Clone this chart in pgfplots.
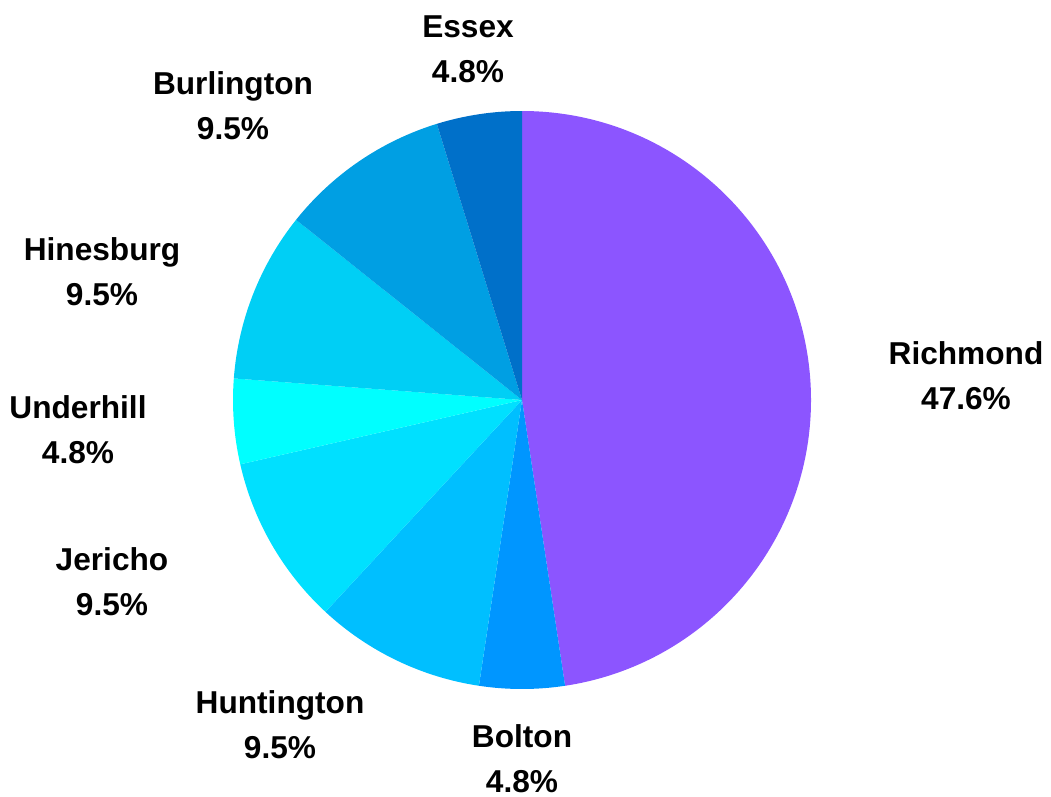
\documentclass[border=0pt]{standalone}
\usepackage{fontspec}
\setmainfont{Liberation Sans}
\usepackage{pgfplots}
\pgfplotsset{compat=1.18}

\definecolor{cRichmond}{HTML}{8C55FF}
\definecolor{cBolton}{HTML}{0096FF}
\definecolor{cHuntington}{HTML}{00BFFF}
\definecolor{cJericho}{HTML}{00E0FF}
\definecolor{cUnderhill}{HTML}{00FFFF}
\definecolor{cHinesburg}{HTML}{00CFF5}
\definecolor{cBurlington}{HTML}{009FE3}
\definecolor{cEssex}{HTML}{0070C9}

% counts (out of 21): Richmond 10, Bolton 1, Huntington 2, Jericho 2,
% Underhill 1, Hinesburg 2, Burlington 2, Essex 1
\newcommand{\slice}[3]{% start count, end count, colour
  \fill[#3] (axis cs:522,400) -- ++({90-#1*360/21}:2.89cm)
    arc[start angle={90-#1*360/21}, end angle={90-#2*360/21}, radius=2.89cm] -- cycle;}
\newcommand{\lab}[4]{\node[font=\bfseries\fontsize{9}{12.8}\selectfont, align=center]
  at (axis cs:#1,#2) {#3\\#4};}

\begin{document}
\begin{tikzpicture}
\begin{axis}[
  scale only axis,
  width=10.51cm, height=7.96cm,
  xmin=0, xmax=1051, ymin=0, ymax=796,
  y dir=reverse,
  hide axis,
  clip=false,
]
\slice{0}{10}{cRichmond}
\slice{10}{11}{cBolton}
\slice{11}{13}{cHuntington}
\slice{13}{15}{cJericho}
\slice{15}{16}{cUnderhill}
\slice{16}{18}{cHinesburg}
\slice{18}{20}{cBurlington}
\slice{20}{21}{cEssex}

\lab{966}{376}{Richmond}{47.6\%}
\lab{522}{759}{Bolton}{4.8\%}
\lab{280}{725}{Huntington}{9.5\%}
\lab{112}{582}{Jericho}{9.5\%}
\lab{78}{430}{Underhill}{4.8\%}
\lab{102}{272}{Hinesburg}{9.5\%}
\lab{233}{106}{Burlington}{9.5\%}
\lab{468}{49}{Essex}{4.8\%}
\end{axis}
\pgfresetboundingbox
\path[use as bounding box] (current axis.south west) rectangle (current axis.north east);
\end{tikzpicture}
\end{document}
